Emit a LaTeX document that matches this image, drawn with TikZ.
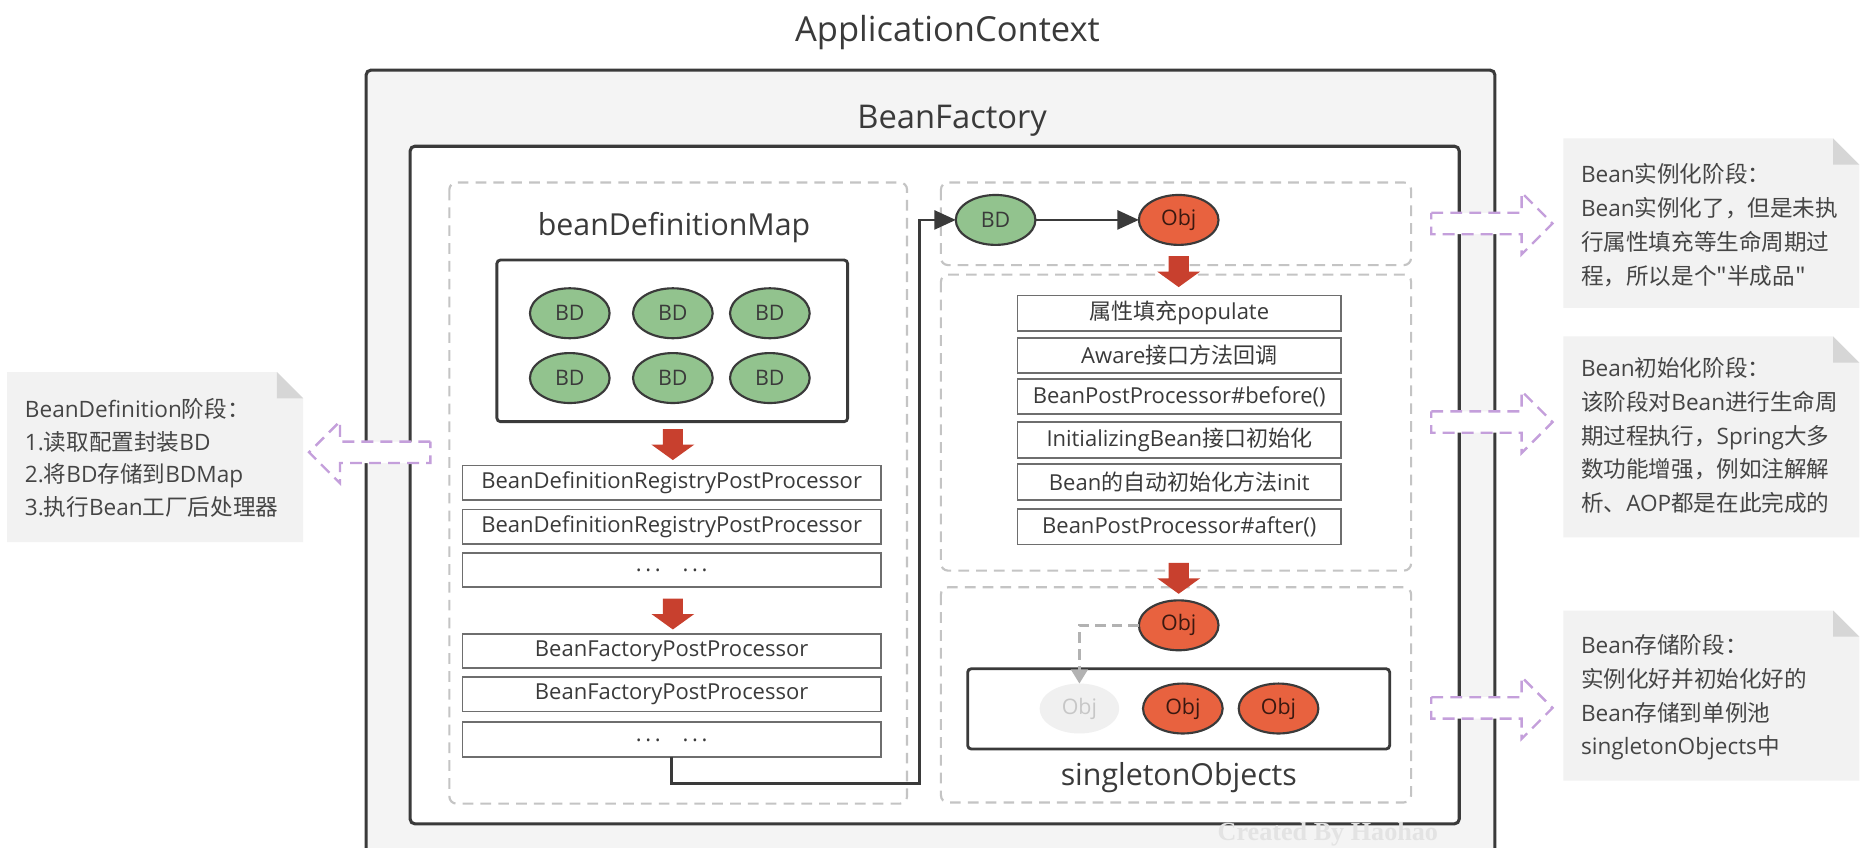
\documentclass[tikz,border=0pt]{standalone}
\usepackage{fontspec}
\setmainfont{Open Sans}
\newfontfamily\cjkfont{Noto Sans CJK SC}
\newfontfamily\wmfont{Liberation Serif}
\newcommand\zh[1]{{\cjkfont #1}}
\usetikzlibrary{shapes.geometric,arrows.meta,calc}
\definecolor{framec}{HTML}{3A3A3A}
\definecolor{acfill}{HTML}{F4F4F4}
\definecolor{dashc}{HTML}{C4C4C4}
\definecolor{rowc}{HTML}{6E6E6E}
\definecolor{bdgreen}{HTML}{92C38E}
\definecolor{objred}{HTML}{E8623F}
\definecolor{arrred}{HTML}{C8402E}
\definecolor{notec}{HTML}{F2F2F2}
\definecolor{foldc}{HTML}{D6D6D6}
\definecolor{purp}{HTML}{C49FDB}
\definecolor{txt}{HTML}{3A3A3A}
\definecolor{notetxt}{HTML}{454545}
\newcommand\drawnote[4]{%
  \fill[notec] (#1,#2) -- ({#3-22},#2) -- (#3,{#2+22}) -- (#3,#4) -- (#1,#4) -- cycle;
  \fill[foldc] ({#3-22},#2) -- (#3,{#2+22}) -- ({#3-22},{#2+22}) -- cycle;}
\tikzset{
  every node/.style={inner sep=0pt, outer sep=0pt},
  frame/.style={draw=framec, line width=2.6pt, rounded corners=4pt},
  dbox/.style={draw=dashc, line width=1.8pt, dash pattern=on 9pt off 6pt, rounded corners=6pt},
  rowbox/.style={draw=rowc, line width=1.5pt, fill=white, minimum height=29pt, text=txt,
    font=\fontsize{18.5}{22}\selectfont},
  lrow/.style={rowbox, minimum width=352pt},
  rrow/.style={rowbox, minimum width=272pt, minimum height=30pt},
  bdell/.style={ellipse, draw=framec, line width=1.8pt, fill=bdgreen, minimum width=67pt,
    minimum height=42pt, text=txt, font=\fontsize{18}{20}\selectfont},
  objell/.style={bdell, fill=objred, text=black!75!objred},
  ghostell/.style={ellipse, fill=black!6, minimum width=67pt, minimum height=42pt,
    text=black!22, font=\fontsize{18}{20}\selectfont},
  title/.style={text=txt},
  conn/.style={draw=framec, line width=2pt, -{Triangle[length=18pt,width=16pt]}},
  gconn/.style={draw=black!30, line width=2.4pt, dash pattern=on 9pt off 5pt,
    -{Triangle[length=12pt,width=14pt]}},
  notetext/.style={align=left, text=notetxt, anchor=north west},
  redarr/.pic={\fill[arrred] (-8.5,0) -- (8.5,0) -- (8.5,13) -- (18,13) -- (0,26)
    -- (-18,13) -- (-8.5,13) -- cycle;},
  hollowarr/.pic={\filldraw[fill=white, draw=purp, line width=2pt, dash pattern=on 10pt off 6pt]
    (0,-9) -- (76,-9) -- (76,-26) -- (102,0) -- (76,26) -- (76,9) -- (0,9) -- cycle;}
}
\begin{document}
\begin{tikzpicture}[x=1pt,y=-1pt]
\useasboundingbox (0,0) rectangle (1568,713);
\clip (0,0) rectangle (1568,713);
\fill[white] (0,0) rectangle (1568,713);

% ApplicationContext and BeanFactory frames
\node[title, anchor=base, font=\fontsize{29}{32}\selectfont] (actitle) at (797,35) {ApplicationContext};
\draw[frame, fill=acfill] (308,59) rectangle (1257.5,780);
\node[title, anchor=base, font=\fontsize{27.5}{30}\selectfont] (bftitle) at (801,108) {BeanFactory};
\draw[frame, fill=white] (345,123) rectangle (1227.5,693);

% watermark
\node[anchor=base, font=\wmfont\bfseries\fontsize{22}{22}\selectfont, text=black!11] (wm) at (1117,707) {Created By Haohao};

% dashed regions
\draw[dbox] (378,153.5) rectangle (763,676);
\draw[dbox] (791.5,153.5) rectangle (1187,223);
\draw[dbox] (791.5,231) rectangle (1187,480);
\draw[dbox] (791.5,494) rectangle (1187,675);

% beanDefinitionMap
\node[title, anchor=base, font=\fontsize{25.5}{28}\selectfont] (bdmtitle) at (567,198) {beanDefinitionMap};
\node[draw=framec, line width=2.4pt, fill=white, rounded corners=3pt, minimum width=295pt,
  minimum height=136pt] (bdm) at (565.5,286.7) {};
\node[bdell] (b1) at (479.3,263.5) {BD};
\node[bdell] (b2) at (566,263.5) {BD};
\node[bdell] (b3) at (647.6,263.5) {BD};
\node[bdell] (b4) at (479.3,318) {BD};
\node[bdell] (b5) at (566,318) {BD};
\node[bdell] (b6) at (647.6,318) {BD};

\pic at (566,361) {redarr};
\node[lrow] (r1) at (565,406) {BeanDefinitionRegistryPostProcessor};
\node[lrow] (r2) at (565,443) {BeanDefinitionRegistryPostProcessor};
\node[lrow] (r3) at (565,479.5) {\raisebox{-3pt}{.\,.\,.\quad.\,.\,.}};
\pic at (566,503.5) {redarr};
\node[lrow] (r4) at (565,547.5) {BeanFactoryPostProcessor};
\node[lrow] (r5) at (565,584) {BeanFactoryPostProcessor};
\node[lrow] (r6) at (565,622) {\raisebox{-3pt}{.\,.\,.\quad.\,.\,.}};

% instantiation
\node[bdell] (bd0) at (837.5,185) {BD};
\node[objell] (obj0) at (991.5,185) {Obj};
\coordinate (turn) at (773.5,659);
\draw[conn] (r6.south) |- (turn) |- (bd0.west);
\draw[conn] (bd0.east) -- (obj0.west);

\pic at (991.5,215.5) {redarr};
\node[rrow] (p1) at (992,263.5) {\zh{属性填充}populate};
\node[rrow] (p2) at (992,299) {Aware\zh{接口方法回调}};
\node[rrow] (p3) at (992,333.5) {BeanPostProcessor\#before()};
\node[rrow] (p4) at (992,370) {InitializingBean\zh{接口初始化}};
\node[rrow] (p5) at (992,405.5) {Bean\zh{的自动初始化方法}init};
\node[rrow] (p6) at (992,443) {BeanPostProcessor\#after()};
\pic at (991.5,473.5) {redarr};

% singleton objects
\node[objell] (objT) at (991.5,526) {Obj};
\node[draw=framec, line width=2.4pt, fill=white, rounded corners=3pt, minimum width=355pt,
  minimum height=67.5pt] (sing) at (991.5,596.3) {};
\node[ghostell] (g1) at (908,596) {Obj};
\node[objell] (o2) at (995,596) {Obj};
\node[objell] (o3) at (1075.5,596) {Obj};
\draw[gconn] (objT.west) -| (g1.north);
\node[title, anchor=base, font=\fontsize{25.5}{28}\selectfont] (singtitle) at (991.6,661) {singletonObjects};

% notes
\drawnote{1315}{116.5}{1564}{259}
\node[notetext, font=\fontsize{19}{28.5}\selectfont] (n1) at (1330,137.5)
  {Bean\zh{实例化阶段：}\\Bean\zh{实例化了，但是未执}\\\zh{行属性填充等生命周期过}\\\zh{程，所以是个"半成品"}};
\drawnote{1315}{283}{1564}{452}
\node[notetext, font=\fontsize{19}{28.5}\selectfont] (n2) at (1330,300.5)
  {Bean\zh{初始化阶段：}\\\zh{该阶段对}Bean\zh{进行生命周}\\\zh{期过程执行，}Spring\zh{大多}\\\zh{数功能增强，例如注解解}\\\zh{析、}AOP\zh{都是在此完成的}};
\drawnote{1315}{513.6}{1564}{656.6}
\node[notetext, font=\fontsize{19}{28.5}\selectfont] (n3) at (1330,533.5)
  {Bean\zh{存储阶段：}\\\zh{实例化好并初始化好的}\\Bean\zh{存储到单例池}\\singletonObjects\zh{中}};
\drawnote{6}{313}{255}{456}
\node[notetext, font=\fontsize{19}{27.5}\selectfont] (n0) at (21,335)
  {BeanDefinition\zh{阶段：}\\1.\zh{读取配置封装}BD\\2.\zh{将}BD\zh{存储到}BDMap\\3.\zh{执行}Bean\zh{工厂后处理器}};

% purple hollow arrows
\pic at (1204,188) {hollowarr};
\pic at (1204,355) {hollowarr};
\pic at (1204,595.5) {hollowarr};
\pic[xscale=-1] at (362,380.5) {hollowarr};
\end{tikzpicture}
\end{document}
